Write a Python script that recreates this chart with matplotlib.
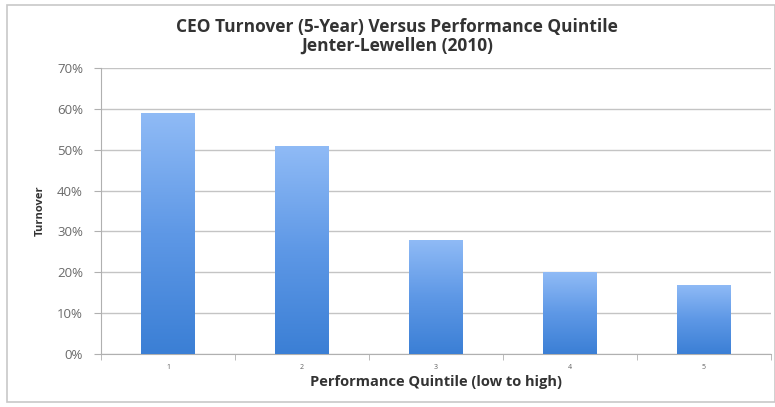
import matplotlib
matplotlib.use("Agg")
import matplotlib.pyplot as plt
import numpy as np
from matplotlib.colors import LinearSegmentedColormap
from matplotlib.patches import Rectangle
from matplotlib.ticker import FuncFormatter, FixedLocator

categories = ["1", "2", "3", "4", "5"]
turnover = [59, 51, 28, 20, 17]
yticks = [0, 10, 20, 30, 40, 50, 60, 70]
title_text = "CEO Turnover (5-Year) Versus Performance Quintile\nJenter-Lewellen (2010)"
xlabel_text = "Performance Quintile (low to high)"
ylabel_text = "Turnover"

FONT = "Open Sans"
W, H = 775, 407
fig = plt.figure(figsize=(W / 100, H / 100), dpi=100)
fig.patch.set_facecolor("white")

# outer frame
frame = Rectangle((7 / W, 1 - 402 / H), (W - 7) / W, (402 - 5) / H,
                  transform=fig.transFigure, fill=False, edgecolor="#c8c8c8", lw=1.2)
fig.patches.append(frame)

ax = fig.add_axes([101 / W, 1 - 354 / H, (771 - 101) / W, (354 - 68) / H])
x = np.arange(len(categories))
bars = ax.bar(x, turnover, width=0.4, color="none", edgecolor="none", zorder=3)

cmap = LinearSegmentedColormap.from_list("g", ["#3b7fd5", "#5e98e6", "#90bbf6"])
grad = np.linspace(0, 1, 256).reshape(-1, 1)
for b in bars:
    x0, y0 = b.get_x(), b.get_y()
    w, h = b.get_width(), b.get_height()
    im = ax.imshow(grad, extent=[x0, x0 + w, y0, y0 + h], origin="lower",
                   cmap=cmap, aspect="auto", zorder=3)
    im.set_clip_path(b)

ax.set_xlim(-0.5, len(categories) - 0.5)
ax.set_ylim(0, 70)
ax.set_yticks(yticks)
ax.yaxis.set_major_formatter(FuncFormatter(lambda v, p: f"{int(v)}%"))
ax.grid(axis="y", color="#c4c4c4", lw=1.0, zorder=0)
ax.set_axisbelow(True)

for s in ["top", "right"]:
    ax.spines[s].set_visible(False)
ax.spines["left"].set_color("#b0b0b0")
ax.spines["bottom"].set_color("#b0b0b0")

ax.set_xticks(x)
ax.set_xticklabels(categories, fontsize=5, color="#606060", family=FONT)
ax.tick_params(axis="x", which="major", length=0, pad=7)
ax.xaxis.set_minor_locator(FixedLocator(np.arange(-0.5, len(categories), 1.0)))
ax.tick_params(axis="x", which="minor", length=4, color="#b0b0b0", direction="out")
ax.tick_params(axis="y", length=5, color="#b0b0b0", labelsize=9.5, labelcolor="#6a6a6a", pad=8)
for lab in ax.get_yticklabels():
    lab.set_family(FONT)

ax.set_xlabel(xlabel_text, fontsize=10.5, fontweight="bold", color="#333333", family=FONT, labelpad=3)
ax.set_ylabel(ylabel_text, fontsize=8, fontweight="bold", color="#333333", family=FONT, labelpad=8)

fig.text(397 / W, 1 - 36.5 / H, title_text, ha="center", va="center",
         fontsize=12.5, fontweight="bold", color="#333333", family=FONT, linespacing=1.1)

fig.savefig("out.png", dpi=100)
